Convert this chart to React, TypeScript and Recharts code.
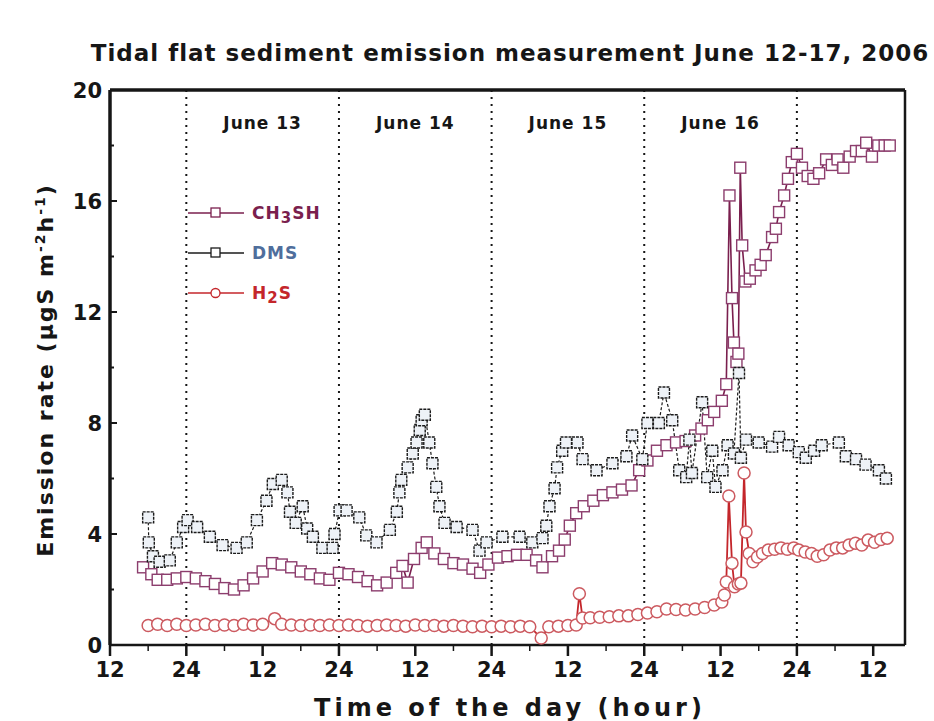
import React from 'react';
import {
  LineChart,
  Line,
  XAxis,
  YAxis,
  ReferenceLine,
  ReferenceArea,
} from 'recharts';

// time axis: hours counted from June 12, 00:00
const ch3shHours = [
  17.2, 18.5, 19.5, 21, 22.5, 24, 25.5, 27, 28.5, 30, 31.5, 33, 34.5, 36, 37.5, 39, 40.5, 42, 43.5, 45,
  46.5, 48, 49.5, 51, 52.5, 54, 55.5, 57, 58, 58.8, 59.8, 61, 61.8, 63, 64.5, 66, 67.5, 69, 70.2, 71.5,
  73, 74.5, 76, 77.5, 79, 80, 81.5, 82.6, 83.5, 84.3, 85.3, 86.5, 88, 89.5, 91, 92.5, 94, 95.2, 96.5, 98,
  99.5, 101, 102.5, 104, 105, 106, 107, 108.2, 108.9, 109.4, 109.8, 110.1, 110.5, 110.8, 111.1, 111.4,
  111.9, 112.6, 113.5, 114.3, 115.1, 116.1, 116.7, 117.2, 118, 118.6, 119.2, 120, 120.8, 121.7, 122.6,
  123.5, 124.6, 125.5, 126.4, 127.3, 128.3, 129.3, 130.2, 130.9, 131.8, 132.8, 133.8, 134.6,
];
const ch3shValues = [
  2.8, 2.55, 2.35, 2.35, 2.4, 2.45, 2.4, 2.3, 2.2, 2.05, 2.0, 2.15, 2.4, 2.65, 2.95, 2.9, 2.8, 2.65, 2.55, 2.4,
  2.35, 2.6, 2.55, 2.45, 2.3, 2.15, 2.25, 2.6, 2.85, 2.25, 3.1, 3.5, 3.7, 3.3, 3.1, 2.95, 2.9, 2.75, 2.6, 2.9,
  3.15, 3.2, 3.25, 3.25, 3.05, 2.8, 3.2, 3.4, 3.8, 4.3, 4.75, 5.0, 5.2, 5.4, 5.5, 5.6, 5.75, 6.3, 6.65, 7.0,
  7.2, 7.3, 7.35, 7.55, 7.8, 8.1, 8.4, 8.8, 9.4, 16.2, 12.5, 10.9, 10.2, 10.5, 17.2, 14.4,
  13.1, 13.2, 13.5, 13.7, 14.05, 14.7, 15.0, 15.6, 16.2, 16.8, 17.4, 17.7, 17.2, 16.9, 16.8,
  17.0, 17.5, 17.3, 17.5, 17.2, 17.6, 17.8, 17.8, 18.1, 17.6, 18.0, 18.0, 18.0,
];

const dmsHours = [
  18.0, 18.1, 18.75, 19.8, 21.4, 22.5, 23.5, 24.2, 25.7, 27.7, 29.7, 31.9, 33.5, 35.1, 36.6, 37.6, 39.0,
  39.9, 40.3, 41.2, 42.3, 43.0, 43.9, 45.4, 47.0, 47.3, 48.1, 49.2, 51.2, 52.3, 53.9, 56.0, 57.1, 57.5,
  57.8, 58.8, 59.6, 60.2, 60.7, 61.0, 61.5, 62.2, 62.7, 63.3, 63.8, 64.6, 66.5, 69.0, 70.1, 71.2, 73.7,
  76.4, 78.4, 80.0, 80.6, 81.1, 81.9, 82.3, 83.1, 83.7, 85.5, 86.3, 88.5, 91.0, 93.2, 94.1, 95.7, 96.5,
  98.3, 99.1, 100.4, 101.5, 102.6, 103.1, 103.5, 105.1, 105.9, 106.7, 107.2, 108.3, 109.1, 110.1, 110.9,
  111.2, 112.0, 114.0, 116.1, 117.2, 118.7, 120.3, 121.4, 122.7, 123.9, 126.6, 127.7, 129.3, 130.8,
  132.9, 134.0,
];
const dmsValues = [
  4.6, 3.7, 3.2, 3.0, 3.05, 3.7, 4.25, 4.5, 4.25, 3.9, 3.6, 3.5, 3.7, 4.5, 5.2, 5.8, 5.95,
  5.5, 4.8, 4.4, 5.0, 4.2, 3.9, 3.5, 3.5, 4.0, 4.85, 4.85, 4.6, 3.95, 3.7, 4.15, 4.8, 5.5,
  5.95, 6.4, 6.9, 7.3, 7.75, 8.1, 8.3, 7.3, 6.55, 5.7, 5.0, 4.4, 4.25, 4.15, 3.4, 3.7, 3.9,
  3.9, 3.7, 3.85, 4.3, 5.0, 5.65, 6.4, 7.0, 7.3, 7.3, 6.7, 6.3, 6.55, 6.8, 7.55, 6.7, 8.0,
  8.0, 9.1, 8.1, 6.3, 6.05, 7.4, 6.2, 8.75, 6.05, 7.0, 5.7, 6.3, 7.2, 6.9, 9.8,
  6.75, 7.4, 7.3, 7.15, 7.5, 7.2, 6.95, 6.75, 7.0, 7.2, 7.3, 6.8, 6.7, 6.5,
  6.3, 6.0,
];

const h2sHours = [
  18.0, 19.5, 21, 22.5, 24, 25.5, 27, 28.5, 30, 31.5, 33, 34.5, 36, 37.9, 39, 40.5, 42, 43.5, 45, 46.5,
  48, 49.5, 51, 52.5, 54, 55.5, 57, 58.5, 60, 61.5, 63, 64.5, 66, 67.5, 69, 70.5, 72, 73.5, 75, 76.5, 78,
  79.8, 81, 82.5, 84, 85.3, 85.8, 86.3, 87.5, 89, 90.5, 92, 93.5, 95, 96.5, 98, 99.5, 101, 102.5, 104,
  105.5, 107, 108.2, 108.6, 108.9, 109.3, 109.8, 110.2, 110.8, 111.2, 111.7, 112.0, 112.5, 113.1, 113.8,
  114.6, 115.5, 116.5, 117.5, 118.5, 119.5, 120.3, 121.3, 122.3, 123.2, 124.2, 125.2, 126.2, 127.2,
  128.2, 129.2, 130.2, 131.2, 132.2, 133.2, 134.2,
];
const h2sValues = [
  0.7, 0.75, 0.7, 0.75, 0.7, 0.72, 0.75, 0.7, 0.72, 0.7, 0.75, 0.72, 0.75, 0.95, 0.75, 0.72, 0.7, 0.72, 0.7, 0.72,
  0.7, 0.72, 0.7, 0.68, 0.7, 0.72, 0.7, 0.68, 0.72, 0.7, 0.7, 0.68, 0.7, 0.68, 0.66, 0.68, 0.66, 0.68, 0.66, 0.68, 0.66,
  0.25, 0.66, 0.68, 0.7, 0.72, 1.85, 0.97, 0.98, 1.0, 1.02, 1.05, 1.05, 1.1, 1.15, 1.2, 1.3, 1.28, 1.26, 1.3,
  1.35, 1.44, 1.55, 1.8, 2.27, 5.37, 2.95, 2.1, 2.2, 2.23, 6.2, 4.07, 3.3, 3.0, 3.17,
  3.3, 3.42, 3.45, 3.5, 3.45, 3.5, 3.42, 3.35, 3.3, 3.2, 3.25, 3.42, 3.5, 3.5,
  3.6, 3.67, 3.6, 3.78, 3.7, 3.8, 3.85,
];

const xTicks = [12, 18, 24, 30, 36, 42, 48, 54, 60, 66, 72, 78, 84, 90, 96, 102, 108, 114, 120, 126, 132];
const yTicks = [0, 2, 4, 6, 8, 10, 12, 14, 16, 18, 20];
const midnights = [24, 48, 72, 96, 120];
const dayNames = ['June 13', 'June 14', 'June 15', 'June 16'];

const toPoints = (hours: number[], values: number[]) => hours.map((h, i) => ({ h, v: values[i] }));
const ch3shData = toPoints(ch3shHours, ch3shValues);
const dmsData = toPoints(dmsHours, dmsValues);
const h2sData = toPoints(h2sHours, h2sValues);

const FONT = '"DejaVu Sans", "Liberation Sans", Arial, sans-serif';
const INK = '#161616';

const CH3SH_LINE = '#7a1f4e';
const CH3SH_MARK = '#8c3d6d';
const DMS_LINE = '#1b1b1b';
const DMS_TEXT = '#4f6e9c';
const H2S_LINE = '#c4262b';
const H2S_MARK = '#cc5a60';

const Square = ({ cx, cy, stroke, fill, size, dash }: any) => {
  if (cx == null || cy == null) return null;
  return (
    <rect
      x={cx - size / 2}
      y={cy - size / 2}
      width={size}
      height={size}
      fill={fill}
      stroke={stroke}
      strokeWidth={1.4}
      strokeDasharray={dash}
    />
  );
};

const XTick = (props: any) => {
  const { x, y, payload } = props;
  const major = payload.value % 12 === 0;
  const label = payload.value % 24 === 0 ? '24' : '12';
  return (
    <g>
      <line x1={x} x2={x} y1={y} y2={y + (major ? 11 : 6)} stroke={INK} strokeWidth={major ? 2.5 : 1.5} />
      {major && (
        <text x={x} y={y + 32} textAnchor="middle" fontFamily={FONT} fontWeight="bold" fontSize={21} fill={INK}>
          {label}
        </text>
      )}
    </g>
  );
};

const YTick = (props: any) => {
  const { x, y, payload } = props;
  const major = payload.value % 4 === 0;
  return (
    <g>
      <line x1={x} x2={x + (major ? 7 : 4)} y1={y} y2={y} stroke={INK} strokeWidth={2} />
      {major && (
        <text x={x - 8} y={y + 8} textAnchor="end" fontFamily={FONT} fontWeight="bold" fontSize={21} fill={INK}>
          {payload.value}
        </text>
      )}
    </g>
  );
};

const legendRows = [
  { key: 'ch3sh', color: CH3SH_LINE, text: CH3SH_LINE, shape: 'square', name: ['CH', '3', 'SH'] },
  { key: 'dms', color: DMS_LINE, text: DMS_TEXT, shape: 'square', name: ['DMS', '', ''] },
  { key: 'h2s', color: H2S_LINE, text: H2S_LINE, shape: 'circle', name: ['H', '2', 'S'] },
];

const LegendBox = () => (
  <div style={{ fontFamily: FONT, fontWeight: 'bold', fontSize: 17 }}>
    {legendRows.map((row) => (
      <div key={row.key} style={{ display: 'flex', alignItems: 'center', height: 40 }}>
        <svg width={58} height={14}>
          <line x1={0} x2={56} y1={7} y2={7} stroke={row.color} strokeWidth={1.5} />
          {row.shape === 'square' ? (
            <rect x={23} y={2} width={9} height={9} fill="#fff" stroke={row.color} strokeWidth={1.3} />
          ) : (
            <circle cx={27.5} cy={7} r={4.5} fill="#fff" stroke={row.color} strokeWidth={1.3} />
          )}
        </svg>
        <span style={{ color: row.text, marginLeft: 6, letterSpacing: 1, lineHeight: '20px' }}>
          {row.name[0]}
          {row.name[1] && <sub style={{ fontSize: 15, lineHeight: 0 }}>{row.name[1]}</sub>}
          {row.name[2]}
        </span>
      </div>
    ))}
  </div>
);

export default function App() {
  return (
    <div style={{ position: 'fixed', left: 0, top: 0, width: 934, height: 721, background: '#fff', overflow: 'hidden' }}>
      <div
        style={{
          position: 'absolute',
          left: 60,
          width: 900,
          top: 40,
          textAlign: 'center',
          fontFamily: FONT,
          fontWeight: 'bold',
          fontSize: 23,
          letterSpacing: 1,
          color: INK,
          whiteSpace: 'nowrap',
        }}
      >
        Tidal flat sediment emission measurement June 12-17, 2006
      </div>

      <div
        style={{
          position: 'absolute',
          left: 45,
          top: 370,
          transform: 'translate(-50%, -50%) rotate(-90deg)',
          whiteSpace: 'nowrap',
          fontFamily: FONT,
          fontWeight: 'bold',
          fontSize: 22,
          letterSpacing: 2,
          color: INK,
        }}
      >
        Emission rate (μgS m<sup style={{ fontSize: 14 }}>-2</sup>h<sup style={{ fontSize: 14 }}>-1</sup>)
      </div>

      <div
        style={{
          position: 'absolute',
          left: 510,
          top: 708,
          transform: 'translate(-50%, -50%)',
          whiteSpace: 'nowrap',
          fontFamily: FONT,
          fontWeight: 'bold',
          fontSize: 24,
          letterSpacing: 4,
          color: INK,
        }}
      >
        Time of the day (hour)
      </div>

      <div style={{ position: 'absolute', left: 0, top: 0 }}>
        <LineChart width={934} height={721} margin={{ top: 90, right: 29, bottom: 36, left: 50 }}>
          <XAxis
            type="number"
            dataKey="h"
            domain={[12, 137]}
            ticks={xTicks}
            interval={0}
            tickSize={0}
            tickMargin={0}
            tick={<XTick />}
            axisLine={{ stroke: INK, strokeWidth: 2.5 }}
            height={40}
            allowDataOverflow
          />
          <YAxis
            type="number"
            domain={[0, 20]}
            ticks={yTicks}
            interval={0}
            tickSize={0}
            tickMargin={0}
            tick={<YTick />}
            axisLine={{ stroke: INK, strokeWidth: 3.5 }}
            width={60}
            allowDataOverflow
          />

          {midnights.slice(0, 4).map((m, i) => (
            <ReferenceArea
              key={dayNames[i]}
              x1={m}
              x2={midnights[i + 1]}
              y1={0}
              y2={20}
              fillOpacity={0}
              strokeOpacity={0}
              label={{
                value: dayNames[i],
                position: 'insideTop',
                offset: 27,
                fill: INK,
                fontFamily: FONT,
                fontWeight: 'bold',
                fontSize: 17,
                letterSpacing: 1,
              }}
            />
          ))}
          {midnights.map((m) => (
            <ReferenceLine key={m} x={m} stroke={INK} strokeWidth={2} strokeDasharray="2 5" />
          ))}
          <ReferenceLine y={20} stroke={INK} strokeWidth={3.5} />
          <ReferenceLine x={137} stroke={INK} strokeWidth={2.5} />

          <Line
            data={ch3shData}
            dataKey="v"
            name="CH3SH"
            stroke={CH3SH_LINE}
            strokeWidth={1.6}
            isAnimationActive={false}
            dot={(p: any) => <Square key={p.index} {...p} size={11} stroke={CH3SH_MARK} fill="#fff" />}
          />
          <Line
            data={dmsData}
            dataKey="v"
            name="DMS"
            stroke={DMS_LINE}
            strokeWidth={1.2}
            strokeDasharray="3 2"
            isAnimationActive={false}
            dot={(p: any) => <Square key={p.index} {...p} size={11} stroke={DMS_LINE} fill="#eef2f7" dash="3 1" />}
          />
          <Line
            data={h2sData}
            dataKey="v"
            name="H2S"
            stroke={H2S_LINE}
            strokeWidth={1.8}
            isAnimationActive={false}
            dot={{ r: 6, fill: '#fff', stroke: H2S_MARK, strokeWidth: 1.5 }}
          />
        </LineChart>
      </div>

      <div style={{ position: 'absolute', left: 188, top: 193 }}>
        <LegendBox />
      </div>
    </div>
  );
}
